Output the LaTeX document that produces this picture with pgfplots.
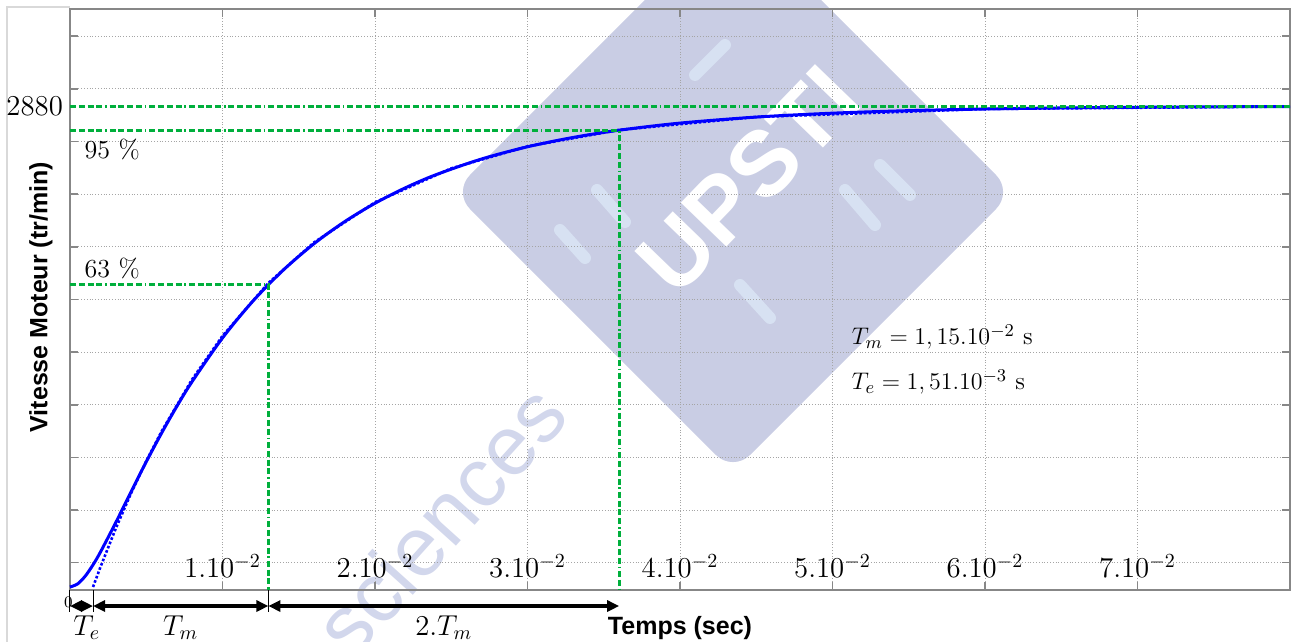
\documentclass[border=0pt]{standalone}
\usepackage{fontspec}
\newfontfamily\helv{Liberation Sans}
\usepackage{pgfplots}
\pgfplotsset{compat=1.18}
\usetikzlibrary{arrows.meta}
\definecolor{gridc}{RGB}{165,165,165}
\definecolor{framec}{RGB}{135,135,135}
\definecolor{grn}{RGB}{0,175,60}
\definecolor{wm}{RGB}{201,205,228}
\definecolor{wm2}{RGB}{210,215,236}
\definecolor{wm3}{RGB}{215,225,242}

\pgfplotstableread{
t v
0 0
0.0005 18.4
0.001 65.3
0.0015 131.3
0.002 209.7
0.003 385.6
0.004 569.3
0.005 749.5
0.006 920.5
0.007 1080.6
0.008 1228.7
0.010 1491.0
0.012 1712.4
0.014 1898.7
0.016 2055.4
0.018 2187.0
0.020 2297.6
0.022 2390.5
0.024 2468.7
0.027 2563.1
0.030 2635.9
0.033 2691.9
0.036 2735.1
0.040 2777.7
0.045 2813.8
0.050 2837.1
0.055 2852.2
0.060 2862.0
0.065 2868.4
0.070 2872.5
0.075 2875.1
0.080 2876.8
}\measured

\pgfplotstableread{
t v
0.00151 0
0.002 120.1
0.003 350.0
0.004 560.6
0.005 753.9
0.006 930.9
0.008 1242.1
0.010 1503.5
0.013 1819.6
0.016 2063.1
0.020 2303.1
0.025 2506.5
0.030 2638.2
0.036 2736.5
0.045 2814.4
0.060 2862.2
0.080 2876.9
}\firstorder

\tikzset{gdash/.style={grn, line width=1.5pt,
  dash pattern=on 3pt off 1.4pt on 3pt off 1.4pt on 3pt off 1.4pt on 3pt off 1.4pt on 0.8pt off 1.4pt}}
\tikzset{harr/.style={line width=1.8pt, {Triangle[length=6pt,width=5.5pt]}-{Triangle[length=6pt,width=5.5pt]}}}

\begin{document}
\begin{tikzpicture}
\path[use as bounding box] (0,0) rectangle (646pt,321pt);
\begin{scope}[x=0.5pt,y=-0.5pt,yshift=321pt]
  \draw[gray!30, line width=1pt] (7,642) -- (7,7) -- (70,7);
  \node[fill=wm, rounded corners=12pt, minimum size=198pt, rotate=45, inner sep=0pt] at (733,192) {};
  % light decorative strokes of the watermark
  \draw[wm3, line width=6pt, line cap=round] (560,230) -- (585,258);
  \draw[wm3, line width=6pt, line cap=round] (597,190) -- (625,222);
  \draw[wm3, line width=6pt, line cap=round] (695,75) -- (725,45);
  \draw[wm3, line width=6pt, line cap=round] (880,165) -- (910,195);
  \draw[wm3, line width=6pt, line cap=round] (845,190) -- (875,225);
  \draw[wm3, line width=6pt, line cap=round] (740,285) -- (770,318);
  \node[white, rotate=46, font=\helv\bfseries\fontsize{46}{50}\selectfont] at (748,180) {UPSTI};
  \node[wm2, rotate=48, font=\helv\fontsize{42}{46}\selectfont] at (440,520) {sciences};
\end{scope}
\begin{axis}[
  at={(35pt,26pt)}, anchor=south west,
  scale only axis, width=610pt, height=290.5pt,
  xmin=0, xmax=0.08, ymin=-18, ymax=3461,
  clip=false,
  axis line style={framec, line width=0.8pt},
  tick style={framec, line width=0.8pt},
  major tick length=4pt,
  xtick pos=both, ytick pos=both,
  xticklabel pos=lower, yticklabel pos=left,
  scaled x ticks=false, scaled y ticks=false,
  xtick={0.01,0.02,0.03,0.04,0.05,0.06,0.07},
  xticklabels={$1.10^{-2}$,$2.10^{-2}$,$3.10^{-2}$,$4.10^{-2}$,$5.10^{-2}$,$6.10^{-2}$,$7.10^{-2}$},
  xticklabel style={anchor=center, yshift=12pt, font=\fontsize{14.4}{17}\selectfont},
  ytick={145.5,460.8,776.1,1091.4,1406.7,1722,2037.3,2352.6,2667.9,2983.2,3298.5},
  yticklabels={},
  extra y ticks={2880},
  extra y tick labels={2880},
  extra y tick style={grid=none, major tick length=0pt, yticklabel style={font=\fontsize{14.4}{17}\selectfont}},
  grid=major,
  major grid style={gridc, densely dotted, line width=0.5pt},
  xlabel={Temps (sec)},
  xlabel style={at={(axis description cs:0.5,-0.065)}, anchor=center, font=\helv\bfseries\fontsize{12.5}{15}\selectfont},
  ylabel={Vitesse Moteur (tr/min)},
  ylabel style={at={(axis description cs:-0.0238,0.504)}, anchor=center, font=\helv\bfseries\fontsize{12.5}{15}\selectfont},
]
\addplot[blue, densely dotted, line width=1.3pt] table[x=t,y=v] {\firstorder};
\addplot[blue, line width=1.5pt, smooth] table[x=t,y=v] {\measured};
\addplot[gdash] coordinates {(0,2880) (0.08,2880)};
\addplot[gdash] coordinates {(0,2736) (0.03601,2736) (0.03601,-18)};
\addplot[gdash] coordinates {(0,1814) (0.01301,1814) (0.01301,-18)};

\node[anchor=west, font=\fontsize{13}{15}\selectfont] at (axis cs:0.0005,2617) {95 \%};
\node[anchor=west, font=\fontsize{13}{15}\selectfont] at (axis cs:0.0005,1910) {63 \%};
\node[anchor=west, font=\fontsize{12.5}{15}\selectfont] at (axis cs:0.0508,1497) {$T_m = 1,15.10^{-2}$ s};
\node[anchor=west, font=\fontsize{12.5}{15}\selectfont] at (axis cs:0.0508,1227) {$T_e = 1,51.10^{-3}$ s};

\node[font=\fontsize{8}{9}\selectfont] at (axis cs:-0.0001,-90) {0};
\draw[black, line width=0.5pt] (axis cs:0,-18) -- (axis cs:0,-150);
\draw[black, line width=0.5pt] (axis cs:0.00151,-18) -- (axis cs:0.00151,-150);
\draw[black, line width=0.5pt] (axis cs:0.01301,-18) -- (axis cs:0.01301,-150);
\draw[harr] (axis cs:0,-114) -- (axis cs:0.00151,-114);
\draw[harr] (axis cs:0.00151,-114) -- (axis cs:0.01301,-114);
\draw[harr] (axis cs:0.01301,-114) -- (axis cs:0.03601,-114);
\node[font=\fontsize{14.4}{17}\selectfont] at (axis cs:0.0011,-245) {$T_e$};
\node[font=\fontsize{14.4}{17}\selectfont] at (axis cs:0.00726,-245) {$T_m$};
\node[font=\fontsize{14.4}{17}\selectfont] at (axis cs:0.02451,-245) {$2.T_m$};
\end{axis}
\end{tikzpicture}
\end{document}
